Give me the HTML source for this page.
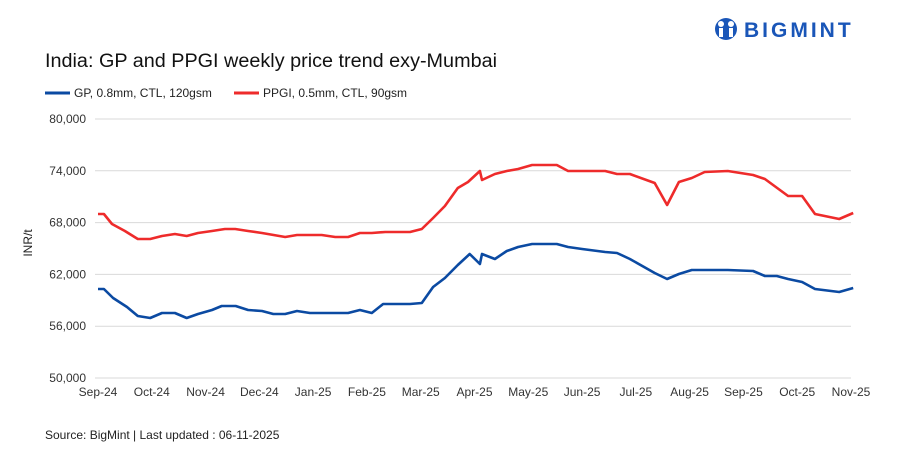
<!DOCTYPE html>
<html><head><meta charset="utf-8"><style>
body{margin:0;background:#fff;font-family:"Liberation Sans",sans-serif}
svg text{font-family:"Liberation Sans",sans-serif}
</style></head><body>
<svg width="906" height="453" viewBox="0 0 906 453">
<g>
<circle cx="726" cy="29" r="11" fill="#1a56b8"/>
<circle cx="721" cy="24" r="3" fill="#fff"/><circle cx="731" cy="24" r="3" fill="#fff"/>
<rect x="719" y="28" width="4" height="9" fill="#fff"/><rect x="729" y="28" width="4" height="9" fill="#fff"/>
<text x="744" y="37" font-size="21" font-weight="bold" fill="#1a56b8" letter-spacing="3">BIGMINT</text>
</g>
<text x="45" y="67" font-size="19" fill="#111" textLength="452" lengthAdjust="spacingAndGlyphs">India: GP and PPGI weekly price trend exy-Mumbai</text>
<g>
<line x1="45" y1="93" x2="70" y2="93" stroke="#0b4aa2" stroke-width="3"/>
<text x="74" y="97" font-size="12" fill="#222">GP, 0.8mm, CTL, 120gsm</text>
<line x1="234" y1="93" x2="259" y2="93" stroke="#ee2b2b" stroke-width="3"/>
<text x="263" y="97" font-size="12" fill="#222">PPGI, 0.5mm, CTL, 90gsm</text>
</g>
<text transform="translate(32,243) rotate(-90)" text-anchor="middle" font-size="12" fill="#222">INR/t</text>
<g id="grid"></g><g id="ylab"></g><g id="xlab"></g><g id="series"></g>
<text x="45" y="439" font-size="12" fill="#222">Source: BigMint | Last updated : 06-11-2025</text>
</svg>
<script>
const yTicks=[50000,56000,62000,68000,74000,80000];
const yTickLabels=["50,000","56,000","62,000","68,000","74,000","80,000"];
const months=["Sep-24","Oct-24","Nov-24","Dec-24","Jan-25","Feb-25","Mar-25","Apr-25","May-25","Jun-25","Jul-25","Aug-25","Sep-25","Oct-25","Nov-25"];
const ppgiT=[0,0.11,0.26,0.5,0.74,0.97,1.19,1.43,1.65,1.86,2.12,2.36,2.55,2.79,3.05,3.48,3.7,4.16,4.41,4.65,4.87,5.09,5.34,5.8,6.02,6.23,6.45,6.69,6.88,7.1,7.14,7.38,7.6,7.81,8.07,8.53,8.74,9.43,9.65,9.89,10.35,10.58,10.8,11.04,11.28,11.71,12.18,12.4,12.83,13.09,13.33,13.78,14.04];
const ppgiV=[69000,69000,67840,67030,66100,66100,66450,66680,66450,66800,67030,67260,67260,67030,66800,66330,66560,66560,66330,66330,66800,66800,66910,66910,67260,68530,69920,72010,72700,73980,72930,73630,73980,74210,74670,74670,73980,73980,73630,73630,72590,70040,72700,73170,73860,73980,73510,73050,71080,71080,69000,68420,69110];
const gpT=[0,0.11,0.28,0.54,0.74,0.97,1.19,1.43,1.65,1.86,2.12,2.3,2.56,2.79,3.05,3.26,3.48,3.7,3.94,4.18,4.44,4.65,4.87,5.09,5.3,5.8,6.02,6.23,6.45,6.69,6.91,7.1,7.14,7.38,7.6,7.81,8.07,8.53,8.74,9.0,9.43,9.65,9.89,10.35,10.58,10.8,11.04,11.71,12.18,12.4,12.62,12.83,13.09,13.33,13.78,14.04];
const gpV=[60310,60310,59270,58220,57180,56950,57530,57530,56950,57410,57880,58340,58340,57880,57760,57410,57410,57760,57530,57530,57530,57530,57880,57530,58570,58570,58690,60540,61580,63090,64360,63200,64360,63780,64710,65170,65520,65520,65170,64940,64590,64480,63780,62160,61470,62050,62510,62510,62390,61820,61820,61470,61120,60310,59960,60420];
const X0=98,X1=851,Y0=378,Y1=119;
const xs=m=>X0+m*(X1-X0)/(months.length-1);
const ys=v=>Y0-(v-50000)*(Y0-Y1)/30000;
const NS="http://www.w3.org/2000/svg";
const g=document.getElementById('grid'),yl=document.getElementById('ylab'),xl=document.getElementById('xlab'),s=document.getElementById('series');
yTicks.forEach((t,i)=>{
 const l=document.createElementNS(NS,'line');
 l.setAttribute('x1',95);l.setAttribute('x2',851);l.setAttribute('y1',ys(t));l.setAttribute('y2',ys(t));
 l.setAttribute('stroke','#d9d9d9');l.setAttribute('stroke-width','1');
 
 
 g.appendChild(l);
 const tx=document.createElementNS(NS,'text');
 tx.setAttribute('x',86);tx.setAttribute('y',ys(t)+4);tx.setAttribute('text-anchor','end');tx.setAttribute('font-size','12');tx.setAttribute('fill','#333');
 tx.textContent=yTickLabels[i];
 
 
 yl.appendChild(tx);
});
months.forEach((m,i)=>{
 const tx=document.createElementNS(NS,'text');
 tx.setAttribute('x',xs(i));tx.setAttribute('y',396);tx.setAttribute('text-anchor','middle');tx.setAttribute('font-size','12');tx.setAttribute('fill','#333');
 tx.textContent=m;
 
 
 xl.appendChild(tx);
});
function draw(T,V,color,name){
 const p=document.createElementNS(NS,'polyline');
 p.setAttribute('points',T.map((t,i)=>xs(t).toFixed(1)+','+ys(V[i]).toFixed(1)).join(' '));
 p.setAttribute('fill','none');p.setAttribute('stroke',color);p.setAttribute('stroke-width','2.6');p.setAttribute('stroke-linejoin','round');
 
 
 s.appendChild(p);
}
draw(ppgiT,ppgiV,'#ee2b2b','ppgi-line');
draw(gpT,gpV,'#0b4aa2','gp-line');
</script>
</body></html>
